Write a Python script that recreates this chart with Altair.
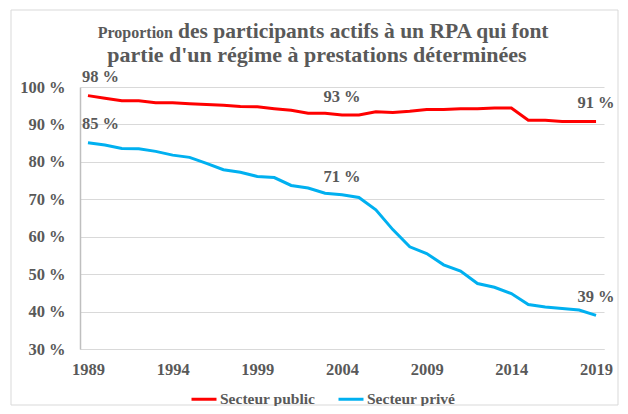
import altair as alt
import pandas as pd

years = list(range(1989, 2020))
public = [97.7, 97.0, 96.3, 96.3, 95.8, 95.8, 95.5, 95.3, 95.1, 94.8, 94.7,
          94.2, 93.8, 93.0, 93.0, 92.5, 92.5, 93.4, 93.2, 93.5, 94.0,
          94.0, 94.2, 94.2, 94.4, 94.4, 91.1, 91.1, 90.8, 90.8, 90.8]
prive = [85.1, 84.5, 83.6, 83.5, 82.8, 81.8, 81.2, 79.6, 77.9, 77.2, 76.1,
         75.8, 73.7, 73.0, 71.6, 71.2, 70.5, 67.2, 61.9, 57.3, 55.5,
         52.5, 50.8, 47.5, 46.5, 44.8, 41.9, 41.2, 40.8, 40.4, 39.0]
series_names = ["Secteur public", "Secteur privé"]
series_colors = ["#ff0000", "#00b0f0"]

x_ticks = [1989, 1994, 1999, 2004, 2009, 2014, 2019]
y_ticks = [30, 40, 50, 60, 70, 80, 90, 100]

first_label_years = [1989, 1989]
first_label_values = [public[0], prive[0]]
first_label_texts = ["98 %", "85 %"]
other_label_years = [2004, 2019, 2004, 2019]
other_label_values = [public[15], public[30], prive[15], prive[30]]
other_label_texts = ["93 %", "91 %", "71 %", "39 %"]

title_a = "Proportion"
title_b = "des participants actifs à un RPA qui font"
title_c = "partie d'un régime à prestations déterminées"

FONT = "Liberation Serif"
GREY = "#595959"

df = pd.DataFrame({
    "year": years * 2,
    "value": public + prive,
    "series": [series_names[0]] * len(years) + [series_names[1]] * len(years),
})
first_df = pd.DataFrame({"year": first_label_years, "value": first_label_values, "label": first_label_texts})
other_df = pd.DataFrame({"year": other_label_years, "value": other_label_values, "label": other_label_texts})
one = pd.DataFrame({"k": [0]})

xscale = alt.Scale(domain=[1988.53, 2019.47], nice=False, zero=False)
yscale = alt.Scale(domain=[30, 100], nice=False, zero=False)

x_axis = alt.Axis(
    values=x_ticks, format="d", grid=False, ticks=False, domainColor="#d9d9d9",
    labelFont=FONT, labelFontSize=16.5, labelFontWeight="bold", labelColor=GREY,
    labelPadding=12, title=None, labelFlush=False, labelOverlap=False)
y_axis = alt.Axis(
    values=y_ticks, labelExpr="datum.value + ' %'", grid=True, gridColor="#d9d9d9",
    ticks=False, domainColor="#bfbfbf", domainWidth=1.5,
    labelFont=FONT, labelFontSize=16.5, labelFontWeight="bold", labelColor=GREY,
    labelPadding=15, title=None, labelOverlap=False, labelFlush=False)

x_enc = alt.X("year:Q", scale=xscale, axis=x_axis)
y_enc = alt.Y("value:Q", scale=yscale, axis=y_axis)

lines = alt.Chart(df).mark_line(strokeWidth=3).encode(
    x=x_enc, y=y_enc,
    color=alt.Color("series:N", scale=alt.Scale(domain=series_names, range=series_colors),
                    legend=alt.Legend(title=None, orient="none", legendX=110, legendY=298,
                                      direction="horizontal", symbolType="stroke",
                                      symbolStrokeWidth=3, symbolSize=625,
                                      labelFont=FONT, labelFontSize=15.5, labelFontWeight="bold",
                                      labelColor=GREY, labelOffset=2, columnPadding=16,
                                      padding=0)),
)

first_labels = alt.Chart(first_df).mark_text(
    font=FONT, fontSize=16.5, fontWeight="bold", color=GREY, align="left", dx=-6, dy=-19
).encode(x=x_enc, y=y_enc, text="label:N")

other_labels = alt.Chart(other_df).mark_text(
    font=FONT, fontSize=16.5, fontWeight="bold", color=GREY, align="center", dy=-18
).encode(x=x_enc, y=y_enc, text="label:N")

t1 = alt.Chart(one).mark_text(text=title_a, font=FONT, fontSize=16, fontWeight="bold",
                              color=GREY, align="right", baseline="alphabetic").encode(
    x=alt.value(93), y=alt.value(-49))
t2 = alt.Chart(one).mark_text(text=title_b, font=FONT, fontSize=21.5, fontWeight="bold",
                              color=GREY, align="left", baseline="alphabetic").encode(
    x=alt.value(98), y=alt.value(-49))
t3 = alt.Chart(one).mark_text(text=title_c, font=FONT, fontSize=22, fontWeight="bold",
                              color=GREY, align="center", baseline="alphabetic").encode(
    x=alt.value(237), y=alt.value(-25))

border = alt.Chart(one).mark_rect(fillOpacity=0, stroke="#d9d9d9", strokeWidth=1).encode(
    x=alt.value(-69), x2=alt.value(538), y=alt.value(-77), y2=alt.value(318))

chart = alt.layer(lines, first_labels, other_labels, t1, t2, t3, border).properties(
    width=524, height=262,
    autosize=alt.AutoSizeParams(type="none"),
    padding={"left": 72, "top": 79, "right": 16, "bottom": 57},
).configure_view(stroke=None)

chart.save("out.html", embed_options={"renderer": "svg", "actions": False})
